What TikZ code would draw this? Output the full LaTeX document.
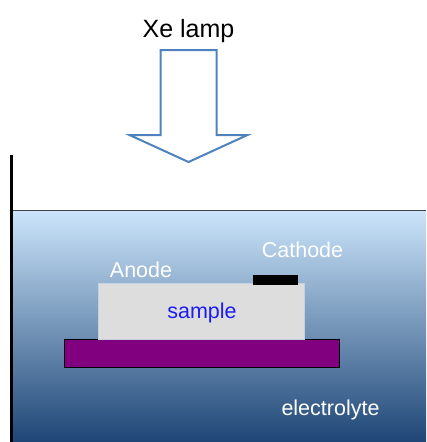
\documentclass[tikz,border=0pt]{standalone}
\usepackage{fontspec}
\setmainfont{Liberation Sans}
\usetikzlibrary{positioning}
\definecolor{LampBlue}{HTML}{4F81BD}
\definecolor{WaterTop}{HTML}{CCE5FB}
\definecolor{WaterMid}{HTML}{7EA7D7}
\definecolor{WaterBottom}{HTML}{1E4676}
\definecolor{SampleGray}{HTML}{DDDDDD}
\definecolor{Holder}{HTML}{800080}
\definecolor{InkBlue}{HTML}{1C1CF2}

\begin{document}
\begin{tikzpicture}[x=1pt, y=-1pt,
  lbl/.style={text=white, anchor=base, inner sep=0pt, font=\fontsize{21.5}{25}\selectfont},
  plate/.style={rectangle, inner sep=0pt}]
  \useasboundingbox (0,0) rectangle (426,442);
  % bath of electrolyte
  \shade[top color=WaterTop, middle color=WaterMid, bottom color=WaterBottom]
    (13,210) rectangle (426,442);
  \draw[black!75, line width=1pt] (13,210) -- (426,210);
  \draw[line width=3pt] (11.5,155) -- (11.5,442);

  % lamp and its light
  \node[anchor=base, inner sep=0pt, font=\fontsize{25}{30}\selectfont] (lamp) at (188.5,37.5) {Xe lamp};
  \draw[LampBlue, line width=2pt, line join=miter]
    (160.5,50) -- (216.5,50) -- (216.5,135) -- (247.5,135) -- (188.5,162)
    -- (129.5,135) -- (160.5,135) -- cycle;

  % holder, sample and contact
  \node[plate, draw=black, fill=Holder, minimum width=275pt, minimum height=28pt] (holder) at (201.5,353) {};
  \node[plate, draw=black!20!LampBlue!30, fill=SampleGray, minimum width=206pt, minimum height=56pt] (sample) at (201,311) {};
  \node[anchor=base, inner sep=0pt, text=InkBlue, font=\fontsize{21.5}{25}\selectfont] (sampletext) at (202,318.5) {sample};
  \node[plate, fill=black, minimum width=45pt, minimum height=10pt] (contact) at (275.5,280) {};

  \node[lbl] (anode) at (141,277) {Anode};
  \node[lbl] (cathode) at (302.5,257) {Cathode};
  \node[lbl] (electrolyte) at (330.5,415) {electrolyte};
\end{tikzpicture}
\end{document}
